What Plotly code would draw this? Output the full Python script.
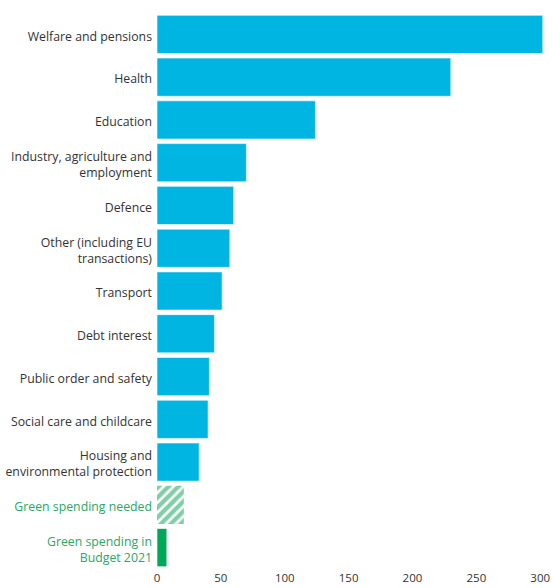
import plotly.graph_objects as go

categories = [
    "Welfare and pensions",
    "Health",
    "Education",
    "Industry, agriculture and<br>employment",
    "Defence",
    "Other (including EU<br>transactions)",
    "Transport",
    "Debt interest",
    "Public order and safety",
    "Social care and childcare",
    "Housing and<br>environmental protection",
    "Green spending needed",
    "Green spending in<br>Budget 2021",
]
values = [302, 230, 124, 70, 60, 57, 51, 45, 41, 40, 33, 21, 7.7]
kinds = ["spend"] * 11 + ["needed", "budget"]
x_ticks = [0, 50, 100, 150, 200, 250, 300]

BLUE = "#00b5e2"
GREEN = "#00a859"
GREEN_TXT = "#2aa866"
TXT = "#333333"

ids = list(range(len(categories)))

fig = go.Figure()
for kind in ["spend", "needed", "budget"]:
    xs = [v for v, k in zip(values, kinds) if k == kind]
    ys = [i for i, k in zip(ids, kinds) if k == kind]
    if kind == "spend":
        marker = dict(color=BLUE, line=dict(color="rgba(255,255,255,0.6)", width=1))
    elif kind == "needed":
        marker = dict(color="white",
                      pattern=dict(shape="/", fgcolor="#00a050", bgcolor="white",
                                   size=7, solidity=0.62),
                      line=dict(width=0))
    else:
        marker = dict(color=GREEN, line=dict(color="rgba(255,255,255,0.6)", width=1))
    fig.add_trace(go.Bar(x=xs, y=ys, orientation="h", marker=marker,
                         showlegend=False, hoverinfo="skip"))

ticktext = []
for c, k in zip(categories, kinds):
    if k == "spend":
        ticktext.append(c)
    else:
        ticktext.append(c.replace("<br>", f'</span><br><span style="color:{GREEN_TXT}">')
                        .join([f'<span style="color:{GREEN_TXT}">', "</span>"]))

fig.update_layout(
    width=553, height=588,
    margin=dict(l=157, r=0, t=13, b=19),
    paper_bgcolor="white", plot_bgcolor="white",
    bargap=0.107,
    font=dict(family="Open Sans, Noto Sans, sans-serif", size=12.3, color=TXT),
    xaxis=dict(range=[0, 310], tickvals=x_ticks, showgrid=False, zeroline=False,
               showline=False, ticks="", automargin=False, ticklabelstandoff=0,
               tickfont=dict(size=11.5, color=TXT)),
    yaxis=dict(tickvals=ids, ticktext=ticktext,
               showgrid=False, zeroline=False, showline=False,
               ticks="", automargin=False, ticklabelstandoff=4, ticklabelshift=-2,
               tickfont=dict(size=12.3, color=TXT)),
)
fig.update_yaxes(range=[len(ids) - 0.5, -0.5], autorange=False)

fig.write_html("out.html")
